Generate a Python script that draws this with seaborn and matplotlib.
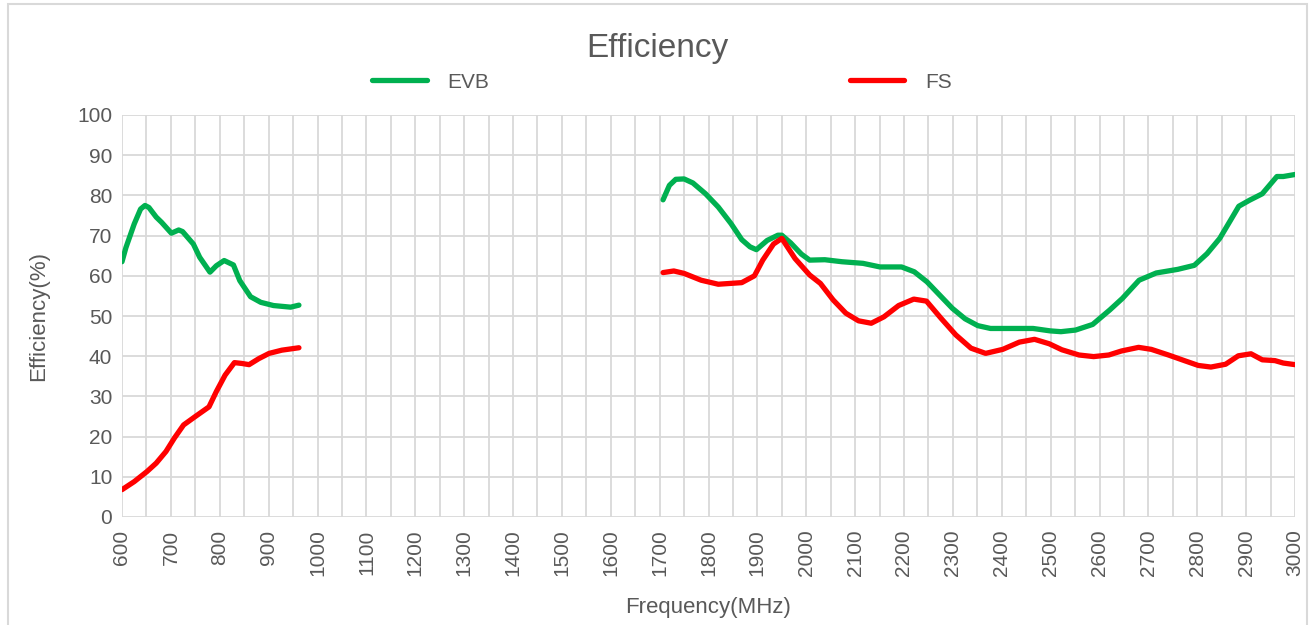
import pandas as pd
import numpy as np
import matplotlib
matplotlib.use("Agg")
import matplotlib.pyplot as plt
import seaborn as sns
from matplotlib.patches import Rectangle
from matplotlib.lines import Line2D

# ======================
# Data
# ======================
evb_low_freq = [600, 608, 625, 638, 647, 655, 670, 681, 701, 716, 724, 746, 759, 780, 793, 809,
                828, 841, 863, 884, 910, 945, 962]
evb_low_eff = [63.5, 67.0, 72.9, 76.6, 77.5, 77.0, 74.6, 73.3, 70.6, 71.4, 71.0, 67.9, 64.6, 60.9,
               62.5, 63.8, 62.7, 58.8, 54.8, 53.4, 52.6, 52.2, 52.7]

fs_low_freq = [600, 625, 651, 670, 690, 707, 726, 750, 778, 793, 811, 830, 845, 860, 880, 901,
               927, 962]
fs_low_eff = [6.8, 8.8, 11.3, 13.4, 16.3, 19.6, 22.9, 25.0, 27.4, 31.2, 35.3, 38.4, 38.2, 37.9,
              39.4, 40.7, 41.5, 42.1]

evb_high_freq = [1707, 1720, 1733, 1750, 1768, 1794, 1820, 1846, 1868, 1885, 1898, 1920, 1942,
                 1950, 1968, 1990, 2007, 2038, 2073, 2116, 2151, 2195, 2221, 2247, 2273, 2299,
                 2325, 2351, 2377, 2421, 2464, 2499, 2521, 2551, 2586, 2621, 2647, 2681, 2716,
                 2760, 2794, 2820, 2846, 2868, 2885, 2907, 2933, 2963, 2976, 3000]
evb_high_eff = [78.9, 82.5, 84.0, 84.1, 83.1, 80.4, 77.1, 73.0, 69.0, 67.2, 66.5, 68.8, 70.1,
                70.1, 68.2, 65.4, 63.9, 64.0, 63.5, 63.1, 62.2, 62.2, 61.0, 58.5, 55.2, 51.9,
                49.3, 47.6, 46.9, 46.9, 46.9, 46.3, 46.1, 46.5, 47.9, 51.5, 54.4, 58.9, 60.7,
                61.6, 62.6, 65.5, 69.3, 73.8, 77.3, 78.8, 80.4, 84.7, 84.7, 85.2]

fs_high_freq = [1707, 1729, 1750, 1785, 1820, 1868, 1894, 1911, 1933, 1950, 1977, 2007, 2029,
                2055, 2081, 2107, 2133, 2159, 2189, 2220, 2246, 2276, 2306, 2337, 2367, 2402,
                2436, 2467, 2497, 2523, 2558, 2588, 2619, 2645, 2680, 2706, 2741, 2776, 2802,
                2828, 2858, 2884, 2910, 2933, 2959, 2976, 3000]
fs_high_eff = [60.8, 61.2, 60.6, 58.9, 57.9, 58.3, 60.0, 63.9, 67.9, 69.3, 64.3, 60.2, 58.1,
               54.0, 50.7, 48.8, 48.2, 49.8, 52.6, 54.2, 53.7, 49.4, 45.3, 42.0, 40.7, 41.7,
               43.5, 44.2, 43.1, 41.6, 40.3, 39.9, 40.3, 41.3, 42.2, 41.7, 40.3, 38.8, 37.7,
               37.3, 38.0, 40.1, 40.6, 39.1, 38.9, 38.3, 37.9]

x_ticks = list(range(600, 3001, 100))
x_grid = list(range(600, 3001, 50))
y_ticks = list(range(0, 101, 10))


def build_frame():
    parts = []
    for name, band, f, e in [("EVB", "low", evb_low_freq, evb_low_eff),
                             ("EVB", "high", evb_high_freq, evb_high_eff),
                             ("FS", "low", fs_low_freq, fs_low_eff),
                             ("FS", "high", fs_high_freq, fs_high_eff)]:
        parts.append(pd.DataFrame({"Frequency": f, "Efficiency": e,
                                   "Series": name, "Band": band}))
    return pd.concat(parts, ignore_index=True)


# ======================
# Plot
# ======================
sns.set_theme(style="white")
plt.rcParams['font.family'] = ['Liberation Sans', 'DejaVu Sans']
text_color = "#595959"
grid_color = "#D9D9D9"

df = build_frame()

fig = plt.figure(figsize=(13.12, 6.25), dpi=100)
ax = fig.add_axes([122 / 1312, 1 - 517 / 625, (1295 - 122) / 1312, (517 - 115) / 625])

sns.lineplot(data=df, x="Frequency", y="Efficiency", hue="Series", units="Band",
             estimator=None, palette={"EVB": "#00B050", "FS": "#FF0000"},
             linewidth=3.8, ax=ax, legend=False, sort=True, zorder=3)

ax.set_xlim(600, 3000)
ax.set_ylim(0, 100)
ax.set_xticks(x_ticks)
ax.set_xticks(x_grid, minor=True)
ax.set_yticks(y_ticks)
ax.set_xticklabels([str(t) for t in x_ticks], rotation=90)
ax.tick_params(axis="both", which="both", length=0, colors=text_color, labelsize=15)
ax.tick_params(axis="x", pad=9)
ax.tick_params(axis="y", pad=7)
ax.grid(True, which="both", color=grid_color, linewidth=1.3)
for s in ax.spines.values():
    s.set_visible(False)

ax.set_xlabel("Frequency(MHz)", fontsize=16, color=text_color)
ax.set_ylabel("Efficiency(%)", fontsize=16, color=text_color)
ax.xaxis.set_label_coords(0.5, -0.2)
ax.yaxis.set_label_coords(-0.062, 0.5)

fig.text(657 / 1312, 1 - 48 / 625, "Efficiency", ha="center", va="center",
         fontsize=24, color=text_color)

# legend
handles = [Line2D([], [], color="#00B050", lw=3.8, solid_capstyle="round"),
           Line2D([], [], color="#FF0000", lw=3.8, solid_capstyle="round")]
leg = fig.legend(handles, ["EVB", "FS"], ncol=2, loc="center",
                 bbox_to_anchor=(662 / 1312, 1 - 82 / 625), frameon=False,
                 fontsize=15, handlelength=2.6, handletextpad=1.0, columnspacing=17.3)
for t in leg.get_texts():
    t.set_color(text_color)

# chart-area border
fig.patches.append(Rectangle((8 / 1312, -0.05), 1299 / 1312, 1.05 - 4 / 625,
                             transform=fig.transFigure, fill=False,
                             edgecolor=grid_color, linewidth=1.5))

fig.savefig("out.png", dpi=100)
